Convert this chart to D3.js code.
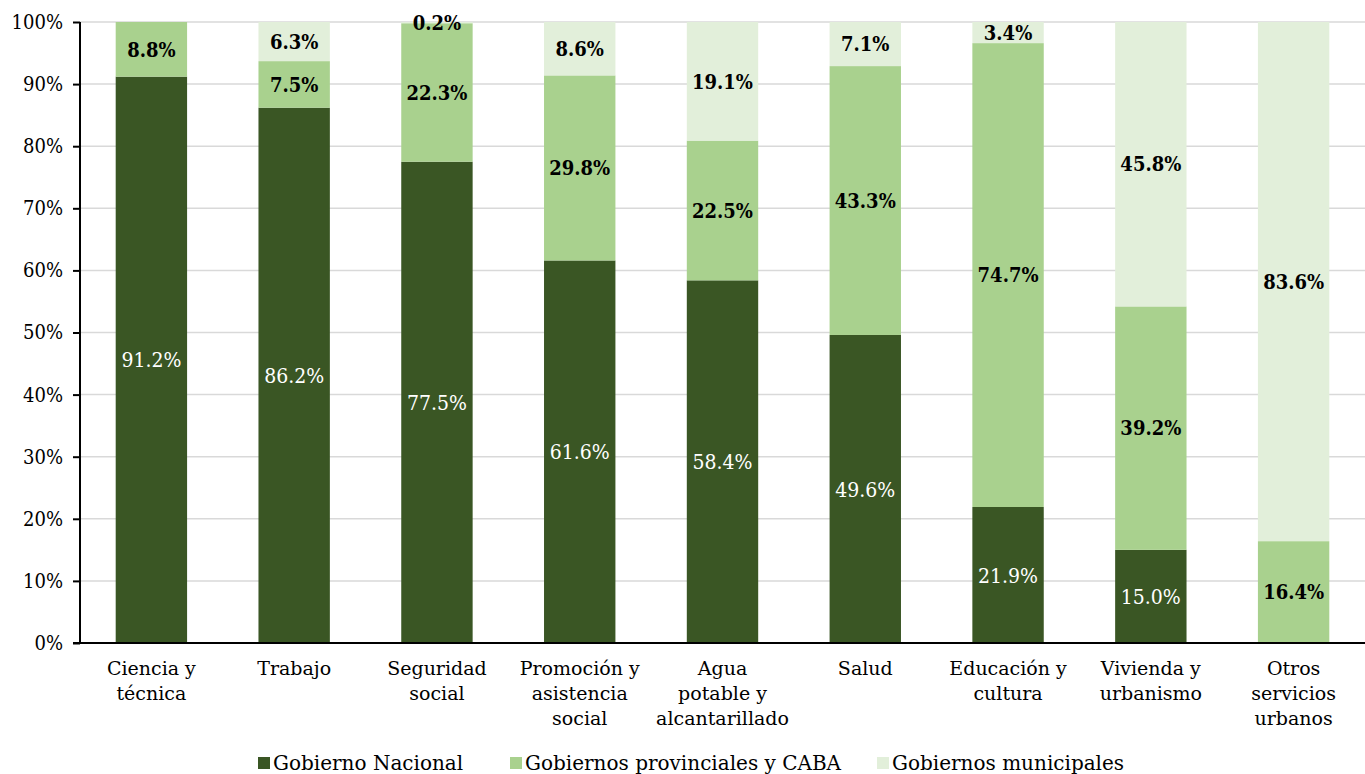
<!DOCTYPE html>
<html>
  <head>
    <meta charset="utf-8">
    <script src="https://d3js.org/d3.v7.min.js"></script>
    <style>
      body {margin: 0; background: #fff;}
      svg text {font-family: "DejaVu Serif", serif;}
      svg text.num {font-family: "DejaVu Serif Condensed", "DejaVu Serif", serif;}
    </style>
  </head>
  <body>
    <svg width="1365" height="774"></svg>
    <script>
      var categories = ["Ciencia y|técnica", "Trabajo", "Seguridad|social", "Promoción y|asistencia|social",
                        "Agua|potable y|alcantarillado", "Salud", "Educación y|cultura", "Vivienda y|urbanismo",
                        "Otros|servicios|urbanos"];
      var seriesNames = ["Gobierno Nacional", "Gobiernos provinciales y CABA", "Gobiernos municipales"];
      var nacional   = [91.2, 86.2, 77.5, 61.6, 58.4, 49.6, 21.9, 15.0, 0];
      var provincial = [8.8, 7.5, 22.3, 29.8, 22.5, 43.3, 74.7, 39.2, 16.4];
      var municipal  = [0, 6.3, 0.2, 8.6, 19.1, 7.1, 3.4, 45.8, 83.6];
      var yTicks = [0, 10, 20, 30, 40, 50, 60, 70, 80, 90, 100];

      var colors = ["#3a5624", "#a9d18e", "#e2efda"];
      var labelColors = ["#ffffff", "#000000", "#000000"];
      var labelWeights = ["500", "bold", "bold"];
      var labelSizes = [21, 20, 20];

      var svg = d3.select("svg");
      var mLeft = 80, mRight = 1365, mTop = 22, mBottom = 643;

      var x = d3.scaleBand().domain(d3.range(categories.length)).range([mLeft, mRight]).paddingInner(0.5).paddingOuter(0.25);
      var y = d3.scaleLinear().domain([0, 100]).range([mBottom, mTop]);

      // gridlines
      svg.append("g").selectAll("line").data(yTicks.filter(function(d) {return d > 0;}))
        .enter().append("line")
        .attr("x1", mLeft).attr("x2", mRight)
        .attr("y1", function(d) {return y(d);}).attr("y2", function(d) {return y(d);})
        .attr("stroke", "#d9d9d9").attr("stroke-width", 1.5);

      var table = categories.map(function(c, i) {
        return {cat: i, nacional: nacional[i], provincial: provincial[i], municipal: municipal[i]};
      });
      var stack = d3.stack().keys(["nacional", "provincial", "municipal"])(table);

      var layers = svg.append("g").selectAll("g").data(stack).enter().append("g")
        .attr("fill", function(d, i) {return colors[i];});
      layers.selectAll("rect").data(function(d) {return d;}).enter().append("rect")
        .attr("x", function(d) {return x(d.data.cat);})
        .attr("width", x.bandwidth())
        .attr("y", function(d) {return y(d[1]);})
        .attr("height", function(d) {return y(d[0]) - y(d[1]);});

      // value labels
      stack.forEach(function(layer, li) {
        svg.append("g").selectAll("text").data(layer.filter(function(d) {return d[1] - d[0] > 0;}))
          .enter().append("text")
          .attr("class", "num")
          .attr("x", function(d) {return x(d.data.cat) + x.bandwidth() / 2;})
          .attr("y", function(d) {return y((d[0] + d[1]) / 2);})
          .attr("dy", "0.36em")
          .attr("text-anchor", "middle")
          .attr("font-size", labelSizes[li])
          .attr("font-weight", labelWeights[li])
          .attr("fill", labelColors[li])
          .text(function(d) {return (d[1] - d[0]).toFixed(1) + "%";});
      });

      // y axis
      var yAxis = d3.axisLeft(y).tickValues(yTicks).tickFormat(function(d) {return d + "%";}).tickSize(7).tickPadding(10);
      var gy = svg.append("g").attr("transform", "translate(" + mLeft + ",0)").call(yAxis);
      gy.select(".domain").attr("stroke", "#000").attr("stroke-width", 2).attr("d", "M0," + mTop + "V" + mBottom);
      gy.selectAll(".tick line").attr("stroke", "#000").attr("stroke-width", 2);
      gy.selectAll("text").attr("class", "num").attr("font-size", 20).attr("fill", "#000");
      gy.attr("font-family", null);

      // x baseline
      svg.append("line").attr("x1", mLeft - 7).attr("x2", mRight).attr("y1", mBottom).attr("y2", mBottom)
        .attr("stroke", "#000").attr("stroke-width", 2);

      // category labels
      var cl = svg.append("g").selectAll("text").data(categories).enter().append("text")
        .attr("text-anchor", "middle")
        .attr("font-size", 19)
        .attr("fill", "#000")
        .attr("transform", function(d, i) {return "translate(" + (x(i) + x.bandwidth() / 2) + ",675)";});
      cl.selectAll("tspan").data(function(d) {return d.split("|");}).enter().append("tspan")
        .attr("x", 0).attr("y", function(d, i) {return i * 25;})
        .text(function(d) {return d;});

      // legend
      var legendX = [258, 510, 877];
      var lg = svg.append("g").selectAll("g").data(seriesNames).enter().append("g")
        .attr("transform", function(d, i) {return "translate(" + legendX[i] + ",757)";});
      lg.append("rect").attr("width", 12).attr("height", 12)
        .attr("fill", function(d, i) {return colors[i];});
      lg.append("text").attr("x", 15).attr("y", 13).attr("font-size", 20).attr("fill", "#000")
        .text(function(d) {return d;});
    </script>
  </body>
</html>
